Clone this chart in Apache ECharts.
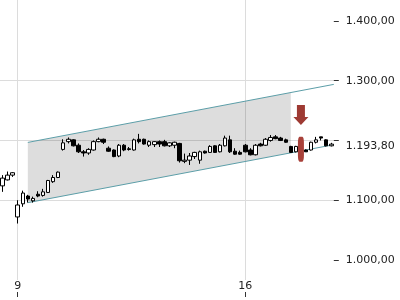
<!DOCTYPE html>
<html><head><meta charset="utf-8">
<script src="https://cdn.jsdelivr.net/npm/echarts@6/dist/echarts.min.js"></script>
<style>html,body{margin:0;padding:0;background:#fff}#c{width:400px;height:300px}</style>
</head><body><div id="c"></div>
<script>
// x categories (one per candle); only two carry a visible label
const xLabels = ['', '', '', '9', '', '', '', '', '', '', '', '', '', '', '', '', '', '', '', '', '', '', '', '', '', '', '', '', '', '', '', '', '', '', '', '', '', '', '', '', '', '', '', '', '', '', '', '', '16', '', '', '', '', '', '', '', '', '', '', '', '', '', '', '', '', ''];
// [open, close, low, high]
const candles = [
  [1124,1137,1114,1142],[1134,1142,1133,1148],[1142,1146,1139,1147],[1072,1092,1061,1100],
  [1094,1112,1089,1116],[1107,1102,1096,1109],[1099,1103,1096,1106],[1110,1107,1105,1115],
  [1108,1114,1106,1119],[1113,1133,1112,1134],[1131,1138,1129,1142],[1138,1147,1137,1148],
  [1185,1196,1183,1202],[1198,1202,1195,1205],[1201,1191,1190,1202],[1192,1181,1179,1195],
  [1181,1179,1173,1184],[1179,1185,1176,1187],[1184,1198,1183,1200],[1198,1202,1197,1205],
  [1202,1197,1194,1203],[1187,1182,1181,1190],[1184,1173,1172,1185],[1174,1192,1172,1194],
  [1192,1184,1182,1194],[1186,1185,1183,1189],[1184,1201,1183,1203],[1202,1198,1195,1211],
  [1202,1194,1193,1203],[1192,1198,1189,1200],[1193,1198,1189,1199],[1198,1194,1189,1200],
  [1198,1191,1190,1201],[1191,1196,1189,1197],[1192,1197,1187,1198],[1195,1166,1163,1196],
  [1165,1167,1162,1178],[1167,1174,1159,1179],[1173,1180,1169,1181],[1167,1181,1161,1183],
  [1182,1179,1178,1183],[1180,1190,1179,1192],[1191,1180,1179,1192],[1181,1192,1180,1194],
  [1191,1204,1190,1208],[1201,1181,1179,1208],[1182,1177,1176,1187],[1180,1177,1176,1183],
  [1192,1181,1180,1194],[1184,1176,1175,1187],[1176,1192,1175,1194],[1194,1191,1190,1196],
  [1192,1202,1191,1204],[1200,1205,1198,1209],[1206,1203,1202,1209],[1204,1200,1199,1206],
  [1201,1197,1196,1203],[1190,1180,1179,1191],[1181,1190,1180,1191],[1188,1181,1180,1189],
  [1184,1181,1181,1185],[1184,1197,1183,1198],[1197,1201,1195,1206],[1206,1204,1200,1206],
  [1201,1191,1190,1202],[1191,1193.8,1190,1196]
];
// trend channel
const channelUpper = [[5,1196.7],[65.5,1293.8]];
const channelLower = [[5,1095.9],[65.5,1192.9]];
const bandCorners = [[5,1196.7],[57,1280.1],[57,1179.3],[5,1095.9]];
// y axis ticks/labels
const yTickValues = [1000,1100,1200,1300,1400];
const yLabelValues = [1000,1100,1193.8,1300,1400];
const lastPrice = 1193.8;
// signal markers
const arrowPoint = [[59,1242.7]];
const signalBar = [[59,1185.4]];

function fmt(v){
  const s = v.toFixed(2).split('.');
  return s[0].replace(/\B(?=(\d{3})+(?!\d))/g,'.') + ',' + s[1];
}
const FONT = 'DejaVu Sans';
const chart = echarts.init(document.getElementById('c'), null, {renderer:'canvas'});
const showIdx = (i) => xLabels[i] !== '';
chart.setOption({
  animation:false,
  backgroundColor:'#fff',
  grid:{left:0, right:66.2, top:0, bottom:20, outerBoundsMode:'none'},
  xAxis:[
    {type:'category', data:xLabels, boundaryGap:true,
     axisLine:{show:false, onZero:false}, axisTick:{show:false},
     axisLabel:{interval:0, margin:1, color:'#222', fontSize:11, fontFamily:FONT},
     splitLine:{show:true, interval:showIdx, alignWithLabel:true, lineStyle:{color:'#dcdcdc', width:1}}},
    {type:'category', data:xLabels, boundaryGap:true, position:'bottom', offset:12,
     axisLine:{show:false, onZero:false},
     axisTick:{show:true, interval:showIdx, alignWithLabel:true, length:5, lineStyle:{color:'#333'}},
     axisLabel:{show:false}, splitLine:{show:false}},
    {type:'value', min:-0.5, max:65.5, show:false, axisLine:{onZero:false}}
  ],
  yAxis:{type:'value', position:'right', min:966.5, max:1435,
    axisLine:{show:false, onZero:false},
    axisTick:{show:true, length:5, customValues:yTickValues, lineStyle:{color:'#333'}},
    axisLabel:{customValues:yLabelValues, margin:12, color:'#222', fontSize:11, fontFamily:FONT,
      formatter:(v)=> Math.abs(v-lastPrice)<0.01 ? '{c|'+fmt(v)+'}' : fmt(v),
      rich:{c:{padding:[3,0,0,0], color:'#222', fontSize:11, fontFamily:FONT}}},
    splitLine:{show:true, showMinLine:false, showMaxLine:false, lineStyle:{color:'#dcdcdc', width:1}}
  },
  series:[
    {type:'custom', xAxisIndex:2, silent:true, z:1, data:[[5,1196.7]],
     renderItem:(params, api)=>({type:'polygon', shape:{points:bandCorners.map(p=>api.coord(p))},
       style:{fill:'rgba(0,0,0,0.135)'}})},
    {type:'line', xAxisIndex:2, data:channelUpper, symbol:'none', silent:true, z:2,
     lineStyle:{color:'#5c9ea8', width:1}},
    {type:'line', xAxisIndex:2, data:channelLower, symbol:'none', silent:true, z:2,
     lineStyle:{color:'#5c9ea8', width:1}},
    {type:'candlestick', xAxisIndex:0, data:candles, barWidth:4, z:3,
     itemStyle:{color:'#ffffff', color0:'#000000', borderColor:'#000000', borderColor0:'#000000', borderColorDoji:'#000000', borderWidth:1}},
    {type:'scatter', xAxisIndex:0, data:arrowPoint, z:5,
     symbol:'path://M3.5,0 L11.5,0 L11.5,12 L15,12 L7.5,20 L0,12 L3.5,12 Z', symbolSize:[15,20],
     itemStyle:{color:'#9e3a33', opacity:1}},
    {type:'scatter', xAxisIndex:0, data:signalBar, z:5,
     symbol:'roundRect', symbolSize:[6,25], itemStyle:{color:'#a8413a', opacity:1}}
  ]
});
</script>
</body></html>
